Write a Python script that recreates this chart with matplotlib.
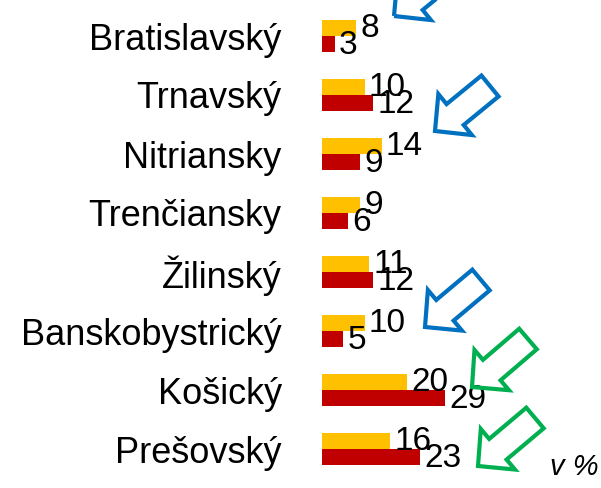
import matplotlib.pyplot as plt
import matplotlib.transforms as mtransforms
from matplotlib.patches import FancyArrow
import numpy as np

# Data
regions = ["Bratislavský", "Trnavský", "Nitriansky", "Trenčiansky",
           "Žilinský", "Banskobystrický", "Košický", "Prešovský"]
values_yellow = [8, 10, 14, 9, 11, 10, 20, 16]
values_red = [3, 12, 9, 6, 12, 5, 29, 23]

# Arrow annotations (image pixels: tail centre x, y, tip x, y)
arrows = [
    (449, -29, 394, 16, "#0070C0"),
    (490, 86, 435, 131, "#0070C0"),
    (481, 280, 425, 327, "#0070C0"),
    (528, 339, 472, 387, "#00B050"),
    (535, 418, 478, 466, "#00B050"),
]

W, H = 601, 488
plt.rcParams["font.family"] = ["Liberation Sans", "DejaVu Sans"]

fig = plt.figure(figsize=(W / 100, H / 100), dpi=100)
ax = fig.add_axes([322 / W, 0, 1 - 322 / W, 1])

y = np.arange(len(regions))
bh = 0.27
ax.barh(y - bh / 2, values_yellow, height=bh, color="#FFC000")
ax.barh(y + bh / 2, values_red, height=bh, color="#C00000")

# Value labels
for yi, v in zip(y, values_yellow):
    ax.text(v + 1.0, yi - bh / 2, str(v), va="center", ha="left", fontsize=24)
for yi, v in zip(y, values_red):
    ax.text(v + 1.0, yi + bh / 2 + 0.03, str(v), va="center", ha="left", fontsize=24)

ax.set_xlim(0, 279 / 4.25)
ax.set_ylim((488 - 36) / 59, -36 / 59)
ax.set_yticks(y)
ax.set_yticklabels(regions, fontsize=26)
ax.tick_params(axis="y", length=0, pad=29)
ax.set_xticks([])
for s in ax.spines.values():
    s.set_visible(False)

# Arrows in pixel coordinates
for x0, y0, x1, y1, col in arrows:
    arr = FancyArrow(x0, H - y0, x1 - x0, (H - y1) - (H - y0), width=27,
                     head_width=53, head_length=26, length_includes_head=True,
                     fill=False, edgecolor=col, linewidth=3)
    arr.set_transform(mtransforms.IdentityTransform())
    fig.add_artist(arr)

fig.text(574 / W, 1 - 467 / H, "v %", ha="center", va="center",
         fontsize=21, style="italic")

fig.savefig("out.png", dpi=100)
